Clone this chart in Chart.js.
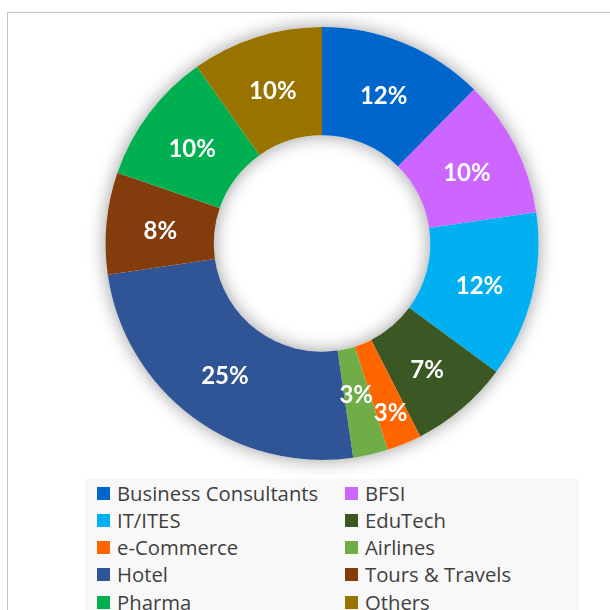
<!DOCTYPE html>
<html>
<head>
<meta charset="utf-8">
<script src="https://cdn.jsdelivr.net/npm/chart.js@4.4.1/dist/chart.umd.min.js"></script>
<style>
  html, body { margin: 0; padding: 0; background: #fff; }
  body { width: 610px; height: 610px; overflow: hidden; position: relative; font-family: "Open Sans", Lato, sans-serif; }
  #frame { position: absolute; left: 7px; top: 12px; width: 640px; height: 640px; border: 1.5px solid #c4c4c4; box-sizing: border-box; }
  #chartWrap { position: absolute; left: 0; top: 0; width: 610px; height: 610px; }
  #legend {
    position: absolute; left: 85px; top: 479px; width: 494px; height: 150px;
    background: #f8f8f8;
  }
  .item { position: absolute; height: 27px; line-height: 27px; font-size: 20.3px; color: #404040; white-space: nowrap; }
  .swatch { position: absolute; left: 0; top: 7px; width: 13px; height: 13px; }
  .item span { position: absolute; left: 20px; top: 0; }
</style>
</head>
<body>
<div id="frame"></div>
<div id="chartWrap"><canvas id="chartSectors" width="610" height="610"></canvas></div>
<div id="legend"></div>
<script>
const sectorLabels = [
  "Business Consultants", "BFSI", "IT/ITES", "EduTech", "e-Commerce",
  "Airlines", "Hotel", "Tours & Travels", "Pharma", "Others"
];
const sectorShares = [12.4, 10.3, 12.4, 7.4, 2.6, 2.6, 25.0, 7.6, 9.9, 9.8];
const sectorColors = [
  "#0066CC", "#CC66FF", "#00B0F0", "#3A5724", "#FF6600",
  "#70AD47", "#2F5597", "#843C0C", "#00B050", "#997300"
];

// nudges small slice labels in/out so they don't collide (px, radial)
const labelShift = [0, 0, 0, 0, 18, -10, 0, 0, 0, 0];

const ringShadow = {
  id: "ringShadow",
  beforeDatasetsDraw(chart) {
    const arc = chart.getDatasetMeta(0).data[0];
    if (!arc) return;
    const { x, y, innerRadius, outerRadius } = arc.getProps(["x", "y", "innerRadius", "outerRadius"], true);
    const ctx = chart.ctx;
    ctx.save();
    ctx.shadowColor = "rgba(0, 0, 0, 0.4)";
    ctx.shadowBlur = 18;
    ctx.fillStyle = "#ffffff";
    ctx.beginPath();
    ctx.arc(x, y, outerRadius, 0, Math.PI * 2);
    ctx.arc(x, y, innerRadius, 0, Math.PI * 2, true);
    ctx.closePath();
    ctx.fill();
    ctx.restore();
  },
};

const sliceLabels = {
  id: "sliceLabels",
  afterDatasetsDraw(chart) {
    const meta = chart.getDatasetMeta(0);
    const values = chart.data.datasets[0].data;
    const total = values.reduce((a, b) => a + b, 0);
    const ctx = chart.ctx;
    ctx.save();
    ctx.font = "bold 24px Lato, 'Open Sans', sans-serif";
    ctx.fillStyle = "#ffffff";
    ctx.textAlign = "center";
    ctx.textBaseline = "middle";
    meta.data.forEach((arc, i) => {
      const p = arc.getProps(["x", "y", "startAngle", "endAngle", "innerRadius", "outerRadius"], true);
      const mid = (p.startAngle + p.endAngle) / 2;
      const r = (p.innerRadius + p.outerRadius) / 2 + (labelShift[i] || 0);
      const tx = p.x + Math.cos(mid) * r;
      const ty = p.y + Math.sin(mid) * r + 3;
      ctx.fillText(`${Math.round((values[i] / total) * 100)}%`, tx, ty);
    });
    ctx.restore();
  },
};

new Chart(document.getElementById("chartSectors"), {
  type: "doughnut",
  data: {
    labels: sectorLabels,
    datasets: [
      {
        data: sectorShares,
        backgroundColor: sectorColors,
        borderWidth: 0,
        hoverOffset: 0,
        offset: 0,
      },
    ],
  },
  options: {
    responsive: false,
    animation: false,
    cutout: "50%",
    layout: { padding: { left: 105.5, right: 71.5, top: 27, bottom: 150 } },
    plugins: {
      legend: { display: false },
      tooltip: { enabled: false },
    },
    events: [],
  },
  plugins: [ringShadow, sliceLabels],
});

// legend in two columns, same order as the slices
const legend = document.getElementById("legend");
sectorLabels.forEach((label, i) => {
  const item = document.createElement("div");
  item.className = "item";
  item.style.left = (i % 2 === 0 ? 12 : 260) + "px";
  item.style.top = (0.5 + Math.floor(i / 2) * 27.3) + "px";
  item.innerHTML = `<div class="swatch" style="background:${sectorColors[i]}"></div><span></span>`;
  item.querySelector("span").textContent = label;
  legend.appendChild(item);
});
</script>
</body>
</html>
